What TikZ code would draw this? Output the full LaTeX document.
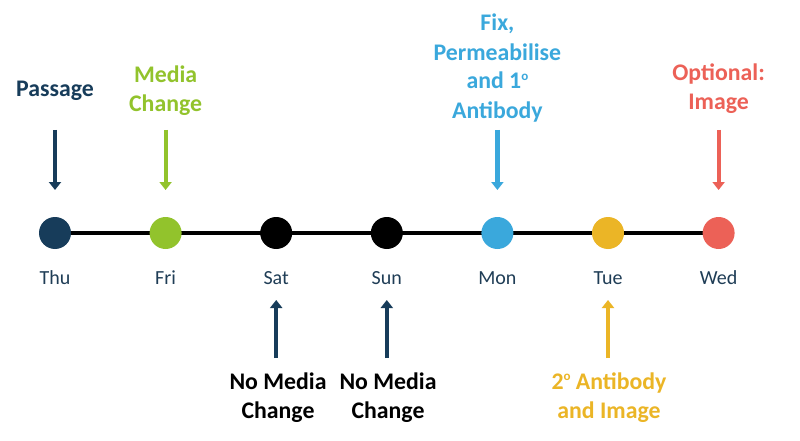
\documentclass[tikz,border=0pt]{standalone}
\usepackage{fontspec}
\setmainfont{Carlito}
\usetikzlibrary{arrows.meta}
\definecolor{cnavy}{HTML}{173C5A}
\definecolor{cgreen}{HTML}{92C32C}
\definecolor{cblue}{HTML}{3AA8DC}
\definecolor{cgold}{HTML}{EBB526}
\definecolor{cred}{HTML}{EC6157}
\definecolor{cday}{HTML}{1F3D56}
\newcommand{\ordo}{\raisebox{0.75ex}{\fontsize{13}{13}\selectfont o}}
\tikzset{
  dot/.style={circle,fill=#1,minimum size=32pt,inner sep=0pt,outer sep=0pt},
  day/.style={anchor=base,text=cday,font=\fontsize{20}{24}\selectfont,inner sep=0pt},
  lab/.style={anchor=base,align=center,text=#1,font=\fontsize{23.8}{29}\selectfont\bfseries,inner sep=0pt},
  arr/.style={draw=#1,line width=4.2pt,-{Triangle[width=12pt,length=8pt]}},
}
\begin{document}
\begin{tikzpicture}[x=1pt,y=-1pt]
\useasboundingbox (0,0) rectangle (800,441);
\fill[white] (0,0) rectangle (800,441);
% timeline
\coordinate (L) at (55,233);
\coordinate (R) at (718.6,233);
\draw[line width=4.5pt] (L) -- (R);
\node[dot=cnavy] (d1) at (55,233) {};
\node[dot=cgreen] (d2) at (165.6,233) {};
\node[dot=black] (d3) at (276.2,233) {};
\node[dot=black] (d4) at (386.8,233) {};
\node[dot=cblue] (d5) at (497.4,233) {};
\node[dot=cgold] (d6) at (608,233) {};
\node[dot=cred] (d7) at (718.6,233) {};
% day labels
\node[day] (n1) at (55,284) {Thu};
\node[day] (n2) at (165.6,284) {Fri};
\node[day] (n3) at (276.2,284) {Sat};
\node[day] (n4) at (386.8,284) {Sun};
\node[day] (n5) at (497.4,284) {Mon};
\node[day] (n6) at (608,284) {Tue};
\node[day] (n7) at (718.6,284) {Wed};
% top labels (anchored at last line's baseline)
\node[lab=cnavy] (l1) at (55,97) {Passage};
\node[lab=cgreen] (l2) at (165.6,112) {Media\\Change};
\node[lab=cblue] (l5) at (497.4,118) {Fix,\\Permeabilise\\and 1\ordo\\Antibody};
\node[lab=cred] (l7) at (718.6,110) {Optional:\\Image};
% bottom labels
\node[lab=black] (l3) at (278,418) {No Media\\Change};
\node[lab=black] (l4) at (388,418) {No Media\\Change};
\node[lab=cgold] (l6) at (609,418) {2\ordo\ Antibody\\and Image};
% arrows
\coordinate (t1) at (55,130);
\coordinate (t2) at (165.6,130);
\coordinate (t5) at (497.4,130);
\coordinate (t7) at (718.6,130);
\coordinate (b3) at (276.2,358);
\coordinate (b4) at (386.8,358);
\coordinate (b6) at (608,358);
\draw[arr=cnavy,shorten >=27pt] (t1) -- (d1);
\draw[arr=cgreen,shorten >=27pt] (t2) -- (d2);
\draw[arr=cblue,shorten >=27pt] (t5) -- (d5);
\draw[arr=cred,shorten >=27pt] (t7) -- (d7);
\draw[arr=cnavy,shorten >=51pt] (b3) -- (d3);
\draw[arr=cnavy,shorten >=51pt] (b4) -- (d4);
\draw[arr=cgold,shorten >=51pt] (b6) -- (d6);
\end{tikzpicture}
\end{document}
